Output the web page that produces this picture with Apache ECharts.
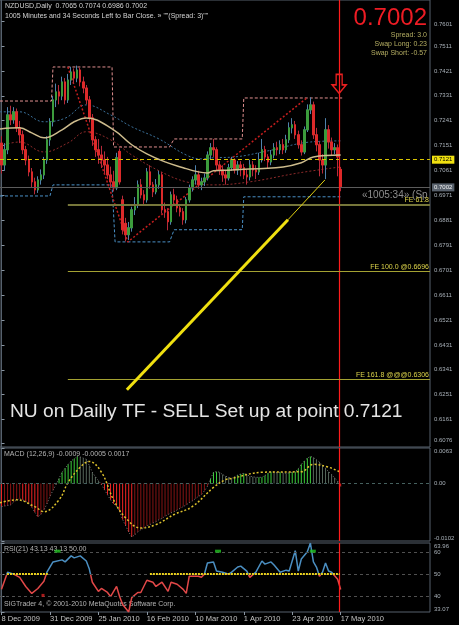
<!DOCTYPE html>
<html>
<head>
<meta charset="utf-8">
<title>NZDUSD Daily</title>
<script src="https://cdn.jsdelivr.net/npm/echarts@6/dist/echarts.min.js"></script>
<style>
html, body { margin: 0; padding: 0; background: #000; }
#chart { width: 459px; height: 625px; }
</style>
</head>
<body>
<div id="chart"></div>
<script>
// daily bars, [open, close, low, high]
const candles = [
  [0.7160, 0.7081, 0.7050, 0.7185], [0.7081, 0.7136, 0.7060, 0.7160], [0.7136, 0.7262, 0.7120, 0.7290],
  [0.7262, 0.7244, 0.7225, 0.7295], [0.7244, 0.7273, 0.7230, 0.7290], [0.7273, 0.7215, 0.7200, 0.7285],
  [0.7215, 0.7190, 0.7160, 0.7240], [0.7190, 0.7136, 0.7120, 0.7205], [0.7136, 0.7099, 0.7080, 0.7150],
  [0.7099, 0.7056, 0.7040, 0.7115], [0.7056, 0.7020, 0.7000, 0.7070], [0.7020, 0.6991, 0.6975, 0.7035],
  [0.6991, 0.7027, 0.6980, 0.7040], [0.7027, 0.7045, 0.7010, 0.7065], [0.7045, 0.7099, 0.7030, 0.7110],
  [0.7099, 0.7172, 0.7085, 0.7185], [0.7172, 0.7237, 0.7150, 0.7250], [0.7237, 0.7316, 0.7220, 0.7330],
  [0.7316, 0.7345, 0.7290, 0.7375], [0.7345, 0.7330, 0.7300, 0.7370], [0.7330, 0.7381, 0.7315, 0.7400],
  [0.7381, 0.7316, 0.7300, 0.7395], [0.7316, 0.7388, 0.7305, 0.7410], [0.7388, 0.7417, 0.7370, 0.7435],
  [0.7417, 0.7395, 0.7375, 0.7430], [0.7395, 0.7424, 0.7380, 0.7440], [0.7424, 0.7381, 0.7365, 0.7432],
  [0.7381, 0.7359, 0.7340, 0.7400], [0.7359, 0.7316, 0.7300, 0.7370], [0.7316, 0.7251, 0.7235, 0.7330],
  [0.7251, 0.7172, 0.7150, 0.7265], [0.7172, 0.7136, 0.7110, 0.7185], [0.7136, 0.7117, 0.7085, 0.7175],
  [0.7117, 0.7099, 0.7070, 0.7150], [0.7099, 0.7081, 0.7050, 0.7130], [0.7081, 0.7045, 0.7030, 0.7110],
  [0.7045, 0.7020, 0.7000, 0.7075], [0.7020, 0.6998, 0.6985, 0.7060], [0.6998, 0.7107, 0.6990, 0.7125],
  [0.7130, 0.7020, 0.7010, 0.7140], [0.6955, 0.6847, 0.6830, 0.6970], [0.6870, 0.6829, 0.6805, 0.6890],
  [0.6829, 0.6854, 0.6810, 0.6875], [0.6854, 0.6919, 0.6840, 0.6930], [0.6919, 0.6937, 0.6900, 0.6965],
  [0.6937, 0.7009, 0.6925, 0.7025], [0.7009, 0.6973, 0.6960, 0.7030], [0.6973, 0.6955, 0.6940, 0.6990],
  [0.6955, 0.7056, 0.6945, 0.7070], [0.7056, 0.7009, 0.6995, 0.7080], [0.7009, 0.6984, 0.6965, 0.7020],
  [0.6984, 0.7009, 0.6975, 0.7030], [0.7009, 0.7045, 0.6995, 0.7060], [0.7045, 0.6919, 0.6905, 0.7055],
  [0.6919, 0.6912, 0.6890, 0.6945], [0.6912, 0.6876, 0.6845, 0.6925], [0.6876, 0.6973, 0.6865, 0.6985],
  [0.6973, 0.6955, 0.6940, 0.6995], [0.6955, 0.6926, 0.6910, 0.6970], [0.6926, 0.6912, 0.6895, 0.6940],
  [0.6912, 0.6883, 0.6865, 0.6925], [0.6883, 0.6955, 0.6870, 0.6965], [0.6955, 0.6998, 0.6945, 0.7010],
  [0.6998, 0.7027, 0.6985, 0.7040], [0.7027, 0.7045, 0.7010, 0.7080], [0.7045, 0.7009, 0.6995, 0.7060],
  [0.7009, 0.7020, 0.6990, 0.7035], [0.7020, 0.7034, 0.7005, 0.7050], [0.7034, 0.7117, 0.7025, 0.7130],
  [0.7117, 0.7143, 0.7100, 0.7160], [0.7143, 0.7136, 0.7110, 0.7175], [0.7136, 0.7081, 0.7060, 0.7145],
  [0.7081, 0.7063, 0.7045, 0.7095], [0.7063, 0.7045, 0.7020, 0.7080], [0.7045, 0.7034, 0.7010, 0.7060],
  [0.7034, 0.7071, 0.7025, 0.7085], [0.7071, 0.7099, 0.7060, 0.7110], [0.7099, 0.7063, 0.7050, 0.7105],
  [0.7063, 0.7081, 0.7045, 0.7095], [0.7081, 0.7071, 0.7040, 0.7095], [0.7071, 0.7045, 0.7030, 0.7085],
  [0.7045, 0.7038, 0.7010, 0.7065], [0.7038, 0.7081, 0.7025, 0.7100], [0.7081, 0.7063, 0.7040, 0.7095],
  [0.7063, 0.7056, 0.7030, 0.7080], [0.7056, 0.7099, 0.7045, 0.7125], [0.7099, 0.7136, 0.7090, 0.7175],
  [0.7136, 0.7110, 0.7095, 0.7150], [0.7110, 0.7092, 0.7070, 0.7120], [0.7092, 0.7117, 0.7080, 0.7135],
  [0.7117, 0.7143, 0.7105, 0.7160], [0.7143, 0.7136, 0.7115, 0.7165], [0.7136, 0.7154, 0.7120, 0.7170],
  [0.7154, 0.7136, 0.7120, 0.7175], [0.7136, 0.7172, 0.7125, 0.7190], [0.7172, 0.7215, 0.7160, 0.7235],
  [0.7215, 0.7226, 0.7195, 0.7250], [0.7226, 0.7190, 0.7175, 0.7240], [0.7190, 0.7154, 0.7140, 0.7205],
  [0.7154, 0.7128, 0.7115, 0.7170], [0.7128, 0.7208, 0.7120, 0.7220], [0.7208, 0.7280, 0.7200, 0.7300],
  [0.7280, 0.7298, 0.7265, 0.7325], [0.7298, 0.7190, 0.7175, 0.7310], [0.7190, 0.7154, 0.7130, 0.7215],
  [0.7154, 0.7099, 0.7040, 0.7165], [0.7099, 0.7081, 0.7050, 0.7120], [0.7081, 0.7208, 0.7030, 0.7250],
  [0.7208, 0.7164, 0.7140, 0.7225], [0.7164, 0.7136, 0.7115, 0.7180], [0.7136, 0.7143, 0.7120, 0.7160],
  [0.7143, 0.7110, 0.7040, 0.7155], [0.7065, 0.7002, 0.6986, 0.7074]
]

// indicator lines, [bar index, value]
const maLine = [[-0.5, 0.7211], [6, 0.7215], [10, 0.7197], [14, 0.7179], [20, 0.7208], [24, 0.7237], [28, 0.7251],
  [37, 0.7208], [43, 0.7154], [48, 0.7121], [54, 0.7092], [60, 0.7071], [65, 0.7056], [68, 0.7052], [70, 0.7060],
  [76, 0.7063], [93, 0.7074], [99, 0.7089], [103, 0.7110], [112, 0.7117]]
const upperBand = [[-0.5, 0.7273], [6, 0.7273], [14, 0.7237], [21, 0.7250], [28, 0.7298], [36, 0.7262], [43, 0.7219],
  [52, 0.7175], [61, 0.7117], [66, 0.7103], [70, 0.7107], [77, 0.7110], [88, 0.7132], [102, 0.7164], [112, 0.7168]]
const lowerBand = [[-0.5, 0.7150], [6, 0.7164], [14, 0.7128], [22, 0.7161], [28, 0.7201], [36, 0.7172], [43, 0.7117],
  [52, 0.7060], [61, 0.7020], [70, 0.7009], [82, 0.7020], [98, 0.7052], [112, 0.7074]]
const upperChannel = [[-0.5, 0.7312], [16.5, 0.7312], [17, 0.7435], [36.5, 0.7435], [37, 0.7146], [55.5, 0.7146],
  [57, 0.7175], [79.5, 0.7175], [80, 0.7323], [112.5, 0.7323]]
const lowerChannel = [[-0.5, 0.6969], [16, 0.6969], [17, 0.7009], [36.5, 0.7009], [37.5, 0.6803], [55.5, 0.6803],
  [57, 0.6847], [79.5, 0.6847], [80, 0.6966], [112.5, 0.6966]]
const zigzag = [[21.9, 0.7435], [41.7, 0.6803], [100.8, 0.7323]]
const trendThick = [[41.4, 0.6269], [94.6, 0.6883]]
const trendThin = [[94.6, 0.6883], [106.8, 0.7027]]

const setupLevel = 0.7121
const bidLevel = 0.7002
const feLevels = [0.6938, 0.6696, 0.6306]
const feNames = ['FE 61.8', 'FE 100.0 @0.6696', 'FE 161.8 @@@0.6306']

const macdHist = [-0.0041, -0.0040, -0.0039, -0.0038, -0.0033, -0.0029, -0.0027, -0.0029, -0.0032, -0.0034,
  -0.0042, -0.0051, -0.0059, -0.0055, -0.0047, -0.0036, -0.0023, -0.0012, -0.0002, 0.0009,
  0.0020, 0.0027, 0.0034, 0.0040, 0.0044, 0.0048, 0.0047, 0.0045, 0.0043, 0.0032,
  0.0020, 0.0012, 0.0005, -0.0002, -0.0011, -0.0020, -0.0029, -0.0036, -0.0040, -0.0050,
  -0.0064, -0.0075, -0.0086, -0.0095, -0.0091, -0.0086, -0.0082, -0.0079, -0.0075, -0.0073,
  -0.0070, -0.0068, -0.0064, -0.0062, -0.0058, -0.0055, -0.0052, -0.0050, -0.0047, -0.0044,
  -0.0041, -0.0038, -0.0034, -0.0031, -0.0027, -0.0023, -0.0020, -0.0013, -0.0005, 0.0008,
  0.0020, 0.0021, 0.0020, 0.0016, 0.0013, 0.0011, 0.0009, 0.0012, 0.0015, 0.0017,
  0.0018, 0.0016, 0.0013, 0.0012, 0.0011, 0.0011, 0.0011, 0.0014, 0.0018, 0.0021,
  0.0020, 0.0019, 0.0020, 0.0019, 0.0018, 0.0019, 0.0020, 0.0021, 0.0026, 0.0034,
  0.0040, 0.0045, 0.0048, 0.0046, 0.0042, 0.0038, 0.0032, 0.0027, 0.0021, 0.0016,
  0.0010, 0.0004, -0.0005]
const macdSignal = [[-0.5, -0.0034], [5, -0.0029], [11, -0.0041], [14, -0.0050], [19, -0.0029], [22, 0.0002],
  [26, 0.0029], [29, 0.0039], [33, 0.0020], [37, -0.0029], [41, -0.0061], [46, -0.0079], [51, -0.0073],
  [57, -0.0055], [63, -0.0041], [70, -0.0007], [74, 0.0007], [76, 0.0009], [86, 0.0020], [99, 0.0021],
  [103, 0.0034], [108, 0.0029], [112, 0.0020]]

const rsi = [[0, 43.2], [2, 50.9], [4, 50.0], [6, 48.6], [8, 44.5], [10, 41.4], [12, 43.6], [14, 46.8], [15, 50.9],
  [17, 55.5], [20, 56.4], [21, 55.5], [23, 58.2], [24, 57.3], [26, 58.2], [28, 55.9], [29, 52.3], [30, 46.4],
  [32, 42.3], [33, 43.6], [35, 41.8], [36, 40.0], [38, 44.5], [39, 40.0], [40, 36.4], [42, 33.1], [43, 39.5],
  [45, 41.8], [46, 41.8], [48, 47.3], [50, 46.4], [51, 44.5], [53, 46.4], [55, 42.3], [56, 46.4], [58, 45.5],
  [60, 43.2], [61, 41.4], [62, 49.1], [65, 49.1], [66, 48.6], [67, 50.0], [68, 55.0], [70, 55.5], [71, 51.4],
  [73, 50.9], [75, 50.0], [76, 50.9], [78, 53.2], [79, 53.6], [81, 51.4], [82, 48.6], [84, 50.9], [86, 55.9],
  [87, 54.5], [89, 55.5], [90, 54.1], [92, 50.9], [94, 51.8], [95, 51.4], [97, 60.5], [98, 51.4], [99, 56.8],
  [101, 60.0], [102, 63.96], [103, 55.5], [104, 53.2], [105, 49.1], [106, 50.9], [107, 55.0], [108, 51.4],
  [109, 50.9], [111, 47.7], [112, 43.13]]
const rsiBuyDots = [[18.5, 60.3], [71.5, 60.3], [102.8, 60.3]]
const rsiSellDots = [[13.7, 40.5]]

const priceTicks = [0.6076, 0.6161, 0.6251, 0.6341, 0.6431, 0.6521, 0.6611, 0.6701, 0.6791, 0.6881, 0.6971,
  0.7061, 0.7151, 0.7241, 0.7331, 0.7421, 0.7511, 0.7601]
const macdTicks = [-0.0102, 0, 0.0063]
const rsiTicks = [33.07, 40, 50, 60, 63.96]
const dateBars = [0, 16, 32, 48, 64, 80, 96, 112]
const dateLabels = ['8 Dec 2009', '31 Dec 2009', '25 Jan 2010', '16 Feb 2010', '10 Mar 2010', '1 Apr 2010',
  '23 Apr 2010', '17 May 2010']

const nowBar = 111.5
const slots = 142
const cats = []
for (let i = 0; i < slots; i++) cats.push(i)

const font = 'Liberation Sans, Arial, sans-serif'
const frame = '#56616d'
const axisText = '#a9b1b9'

// bodies only, wicks come from the full bars drawn underneath
const bodies = candles.map(c => [c[0], c[1], Math.min(c[0], c[1]), Math.max(c[0], c[1])])

// macd colours: bright while moving away from zero, dark while coming back
const histData = macdHist.map((v, i) => {
    const prev = i > 0 ? macdHist[i - 1] : v
    let c
    if (v >= 0) c = v >= prev ? '#3ccf3c' : '#56665a'
    else c = v <= prev ? '#f02424' : '#861414'
    return { value: v, itemStyle: { color: c } }
})

const chart = echarts.init(document.getElementById('chart'))

const grids = [
    { left: 0, top: 0, width: 430, height: 447 },
    { left: 0, top: 448, width: 430, height: 93 },
    { left: 0, top: 543, width: 430, height: 69 }
].map(g => Object.assign(g, { show: true, borderColor: frame, borderWidth: 1, backgroundColor: '#000', outerBoundsMode: 'none' }))

const hiddenCat = idx => ({ type: 'category', gridIndex: idx, data: cats, show: false, boundaryGap: true })
const hiddenVal = idx => ({ type: 'value', gridIndex: idx, min: -0.5, max: slots - 0.5, show: false })

const rightAxis = (idx, min, max, ticks, fmt) => ({
    type: 'value',
    gridIndex: idx,
    position: 'right',
    min: min,
    max: max,
    scale: true,
    axisLine: { show: true, lineStyle: { color: frame } },
    axisTick: { show: true, length: 3, lineStyle: { color: '#8a96a2' }, customValues: ticks },
    axisLabel: {
        show: true,
        customValues: ticks,
        color: axisText,
        fontSize: 6,
        fontFamily: font,
        margin: 4,
        formatter: fmt,
        verticalAlignMinLabel: 'bottom',
        verticalAlignMaxLabel: 'top'
    },
    splitLine: { show: false }
})

const nowLine = () => ({ xAxis: nowBar, lineStyle: { color: '#ff1c1c', width: 1.2, type: 'solid' }, label: { show: false } })
const dashed = lv => ({ yAxis: lv, lineStyle: { color: '#505050', type: [3, 3], width: 1 }, label: { show: false } })

const feLines = feLevels.map((lv, k) => [
    {
        coord: [21.9, lv],
        lineStyle: { color: k === 0 ? '#76763a' : '#a4a232', width: k === 0 ? 2 : 1, type: 'solid' },
        label: { show: true, position: 'insideEndTop', formatter: feNames[k], color: '#dcd34a', fontSize: 7, fontFamily: font, distance: 1 }
    },
    { coord: [slots - 0.5, lv] }
])

const option = {
    backgroundColor: '#000',
    animation: false,
    grid: grids,
    xAxis: [
        hiddenCat(0), hiddenVal(0),
        hiddenCat(1), hiddenVal(1),
        {
            type: 'value',
            gridIndex: 2,
            min: -0.5,
            max: slots - 0.5,
            axisLine: { show: false },
            splitLine: { show: false },
            axisTick: { show: true, length: 3, lineStyle: { color: '#8a96a2' }, customValues: dateBars },
            axisLabel: {
                show: true,
                customValues: dateBars,
                color: '#c4c4c4',
                fontSize: 7.5,
                fontFamily: font,
                align: 'left',
                margin: 3,
                formatter: v => dateLabels[dateBars.indexOf(v)]
            }
        }
    ],
    yAxis: [
        rightAxis(0, 0.6062, 0.7677, priceTicks, v => v.toFixed(4)),
        rightAxis(1, -0.0102, 0.0063, macdTicks, v => (v === 0 ? '0.00' : v.toFixed(4))),
        rightAxis(2, 33.07, 63.96, rsiTicks, v => (v === 33.07 || v === 63.96 ? v.toFixed(2) : String(v)))
    ],
    graphic: [
        { type: 'text', left: 5, top: 3, style: { text: 'NZDUSD,Daily  0.7065 0.7074 0.6986 0.7002', fill: '#d2d2d2', font: '7px ' + font } },
        { type: 'text', left: 5, top: 13, style: { text: '1005 Minutes and 34 Seconds Left to Bar Close. » ""(Spread: 3)"" ', fill: '#d2d2d2', font: '7px ' + font } },
        { type: 'text', right: 32, top: 6, style: { text: '0.7002', fill: '#ee1c24', font: '24px ' + font, textAlign: 'right' } },
        { type: 'text', right: 32, top: 32, style: { text: 'Spread: 3.0', fill: '#b4ad62', font: '7px ' + font, textAlign: 'right' } },
        { type: 'text', right: 32, top: 41, style: { text: 'Swap Long: 0.23', fill: '#b4ad62', font: '7px ' + font, textAlign: 'right' } },
        { type: 'text', right: 32, top: 50, style: { text: 'Swap Short: -0.57', fill: '#b4ad62', font: '7px ' + font, textAlign: 'right' } },
        { type: 'text', left: 362, top: 190, style: { text: '«1005:34» (Sp', fill: '#8e8e8e', font: '10px ' + font } },
        { type: 'text', left: 10, top: 402, style: { text: 'NU on Dailly TF - SELL Set up at point 0.7121', fill: '#e4e4e4', font: '19.2px ' + font } },
        { type: 'text', left: 4, top: 451, style: { text: 'MACD (12,26,9) -0.0009 -0.0005 0.0017', fill: '#b4b4b4', font: '7px ' + font } },
        { type: 'text', left: 4, top: 546, style: { text: 'RSI(21) 43.13 43.13 50.00', fill: '#b4b4b4', font: '7px ' + font } },
        { type: 'text', left: 4, top: 601, style: { text: 'SIGTrader 4, © 2001-2010 MetaQuotes Software Corp.', fill: '#b4b4b4', font: '7px ' + font } }
    ],
    series: [
        // wicks
        {
            type: 'candlestick',
            xAxisIndex: 0,
            yAxisIndex: 0,
            data: candles,
            barWidth: 2,
            itemStyle: {
                color: 'rgba(0,0,0,0)',
                color0: 'rgba(0,0,0,0)',
                borderColor: '#4f82ad',
                borderColor0: '#b82a3a',
                borderWidth: 1
            },
            z: 3
        },
        // bodies
        {
            type: 'candlestick',
            xAxisIndex: 0,
            yAxisIndex: 0,
            data: bodies,
            barWidth: 2,
            itemStyle: {
                color: '#3c9c3c',
                color0: '#dc2a2a',
                borderColor: '#3c9c3c',
                borderColor0: '#dc2a2a',
                borderWidth: 1
            },
            z: 4
        },
        // moving average + horizontal levels
        {
            type: 'line',
            xAxisIndex: 1,
            yAxisIndex: 0,
            data: maLine,
            smooth: 0.4,
            symbol: 'none',
            lineStyle: { color: '#cdbb8c', width: 1.5 },
            z: 5,
            markLine: {
                silent: true,
                symbol: ['none', 'none'],
                data: [
                    {
                        yAxis: setupLevel,
                        lineStyle: { color: '#d8c400', type: [4, 3], width: 1 },
                        label: { show: true, position: 'end', formatter: '0.7121', backgroundColor: '#f0e010', color: '#000', fontSize: 6, fontFamily: font, padding: [1, 2, 1, 2], distance: 2 }
                    },
                    {
                        yAxis: bidLevel,
                        lineStyle: { color: '#5c5c5c', type: 'solid', width: 1 },
                        label: { show: true, position: 'end', formatter: '0.7002', backgroundColor: '#58616c', color: '#f0f0f0', fontSize: 6, fontFamily: font, padding: [1, 2, 1, 2], distance: 2 }
                    },
                    nowLine()
                ].concat(feLines)
            },
            markPoint: {
                silent: true,
                data: [{
                    coord: [nowBar, 0.7374],
                    symbol: 'path://M4,0 L10,0 L10,10 L14,10 L7,18 L0,10 L4,10 Z',
                    symbolSize: [14, 19],
                    itemStyle: { color: 'rgba(0,0,0,0)', borderColor: '#e82020', borderWidth: 1.5 },
                    label: { show: false }
                }]
            }
        },
        // dotted envelope
        { type: 'line', xAxisIndex: 1, yAxisIndex: 0, data: upperBand, smooth: 0.4, symbol: 'none', lineStyle: { color: '#3a6f98', width: 1, type: [2, 2] }, z: 2 },
        { type: 'line', xAxisIndex: 1, yAxisIndex: 0, data: lowerBand, smooth: 0.4, symbol: 'none', lineStyle: { color: '#8c2a2a', width: 1, type: [2, 2] }, z: 2 },
        // price channel
        { type: 'line', xAxisIndex: 1, yAxisIndex: 0, data: upperChannel, symbol: 'none', lineStyle: { color: '#e08f8f', width: 1, type: [3, 2] }, z: 2 },
        { type: 'line', xAxisIndex: 1, yAxisIndex: 0, data: lowerChannel, symbol: 'none', lineStyle: { color: '#4a90c6', width: 1, type: [3, 2] }, z: 2 },
        // zigzag
        { type: 'line', xAxisIndex: 1, yAxisIndex: 0, data: zigzag, symbol: 'none', lineStyle: { color: '#c41e1e', width: 1.5, type: [2, 2] }, z: 2 },
        // trend line
        { type: 'line', xAxisIndex: 1, yAxisIndex: 0, data: trendThick, symbol: 'none', lineStyle: { color: '#f0e010', width: 3 }, z: 6 },
        { type: 'line', xAxisIndex: 1, yAxisIndex: 0, data: trendThin, symbol: 'none', lineStyle: { color: '#e0d010', width: 1 }, z: 6 },
        // macd histogram
        {
            type: 'bar',
            xAxisIndex: 2,
            yAxisIndex: 1,
            data: histData,
            barWidth: 1,
            z: 2
        },
        // outline of the histogram
        { type: 'line', xAxisIndex: 2, yAxisIndex: 1, data: macdHist, symbol: 'none', lineStyle: { color: '#7c7c7c', width: 1, type: [1, 2] }, z: 3 },
        // signal
        {
            type: 'line',
            xAxisIndex: 3,
            yAxisIndex: 1,
            data: macdSignal,
            smooth: 0.4,
            symbol: 'none',
            lineStyle: { color: '#dcc02c', width: 1.5, type: [2, 2] },
            z: 4,
            markLine: {
                silent: true,
                symbol: ['none', 'none'],
                data: [
                    { yAxis: 0, lineStyle: { color: '#45605e', type: [3, 3], width: 1 }, label: { show: false } },
                    nowLine()
                ]
            }
        },
        // rsi dots + level lines
        {
            type: 'scatter',
            xAxisIndex: 4,
            yAxisIndex: 2,
            data: rsiBuyDots,
            symbol: 'rect',
            symbolSize: [6, 3],
            itemStyle: { color: '#22c422' },
            z: 5,
            markLine: {
                silent: true,
                symbol: ['none', 'none'],
                data: [dashed(60), dashed(50), dashed(40), nowLine()]
            }
        },
        {
            type: 'scatter',
            xAxisIndex: 4,
            yAxisIndex: 2,
            data: rsiSellDots,
            symbol: 'rect',
            symbolSize: [3, 3],
            itemStyle: { color: '#d42020' },
            z: 5,
            markLine: {
                silent: true,
                symbol: ['none', 'none'],
                lineStyle: { color: '#ecd21c', type: [2, 1], width: 2 },
                label: { show: false },
                data: [
                    [{ coord: [1.8, 50] }, { coord: [15.3, 50] }],
                    [{ coord: [49, 50] }, { coord: [111.7, 50] }]
                ]
            }
        },
        // rsi, blue above 50 and red below
        {
            type: 'line',
            xAxisIndex: 4,
            yAxisIndex: 2,
            data: rsi,
            symbol: 'none',
            lineStyle: { width: 1.5 },
            z: 4
        }
    ],
    visualMap: {
        type: 'piecewise',
        show: false,
        seriesIndex: 15,
        dimension: 1,
        pieces: [
            { gte: 0, lte: 50, color: '#e24848' },
            { gt: 50, lte: 100, color: '#4b8fc2' }
        ]
    }
}

chart.setOption(option)
</script>
</body>
</html>
